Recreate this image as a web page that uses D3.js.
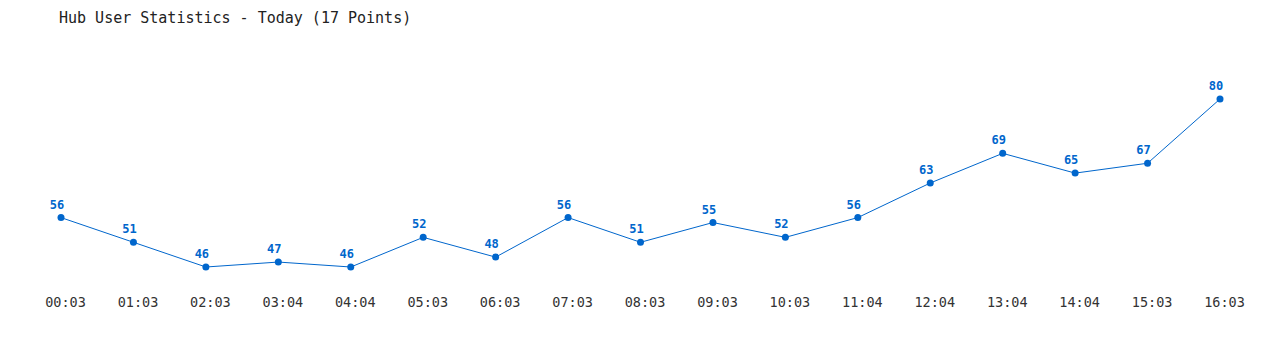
<!DOCTYPE html>
<html>
<head>
<meta charset="utf-8">
<script src="https://cdn.jsdelivr.net/npm/d3@7"></script>
<style>
  body { margin: 0; background: #fff; }
  text { font-family: "DejaVu Sans Mono", "Liberation Mono", monospace; }
</style>
</head>
<body>
<div id="chart"></div>
<script>
var times = ["00:03", "01:03", "02:03", "03:04", "04:04", "05:03", "06:03", "07:03", "08:03",
             "09:03", "10:03", "11:04", "12:04", "13:04", "14:04", "15:03", "16:03"];
var users = [56, 51, 46, 47, 46, 52, 48, 56, 51, 55, 52, 56, 63, 69, 65, 67, 80];

var width = 1280, height = 350;
var blue = "#0066cc";

var svg = d3.select("#chart").append("svg")
    .attr("width", width)
    .attr("height", height);

svg.append("text")
    .attr("x", 59)
    .attr("y", 23)
    .style("font-size", "15px")
    .style("fill", "#222")
    .text("Hub User Statistics - Today (" + users.length + " Points)");

var x = d3.scalePoint()
    .domain(times)
    .range([61, 1220]);

var y = d3.scaleLinear()
    .domain([d3.min(users), d3.max(users)])
    .range([267, 99]);

var data = times.map(function(t, i) { return { time: t, value: users[i] }; });

// tick labels sit a few px right of their points in the original
var xAxis = svg.append("g")
    .attr("transform", "translate(4,290)")
    .call(d3.axisBottom(x).tickSize(0).tickPadding(7));
xAxis.select(".domain").remove();
xAxis.selectAll("text")
    .style("font-family", "'DejaVu Sans Mono', monospace")
    .style("font-size", "13.5px")
    .style("fill", "#333");

svg.append("path")
    .datum(data)
    .attr("fill", "none")
    .attr("stroke", blue)
    .attr("stroke-width", 1)
    .attr("d", d3.line()
        .x(function(d) { return x(d.time); })
        .y(function(d) { return y(d.value); }));

svg.selectAll(".dot")
    .data(data)
    .enter()
    .append("circle")
    .attr("class", "dot")
    .attr("r", 3.5)
    .attr("cx", function(d) { return x(d.time); })
    .attr("cy", function(d) { return y(d.value); })
    .style("fill", blue);

svg.selectAll(".label")
    .data(data)
    .enter()
    .append("text")
    .attr("class", "label")
    .attr("x", function(d) { return x(d.time) - 4; })
    .attr("y", function(d) { return y(d.value) - 9; })
    .attr("text-anchor", "middle")
    .style("font-size", "12px")
    .style("font-weight", "bold")
    .style("fill", blue)
    .text(function(d) { return d.value; });
</script>
</body>
</html>
